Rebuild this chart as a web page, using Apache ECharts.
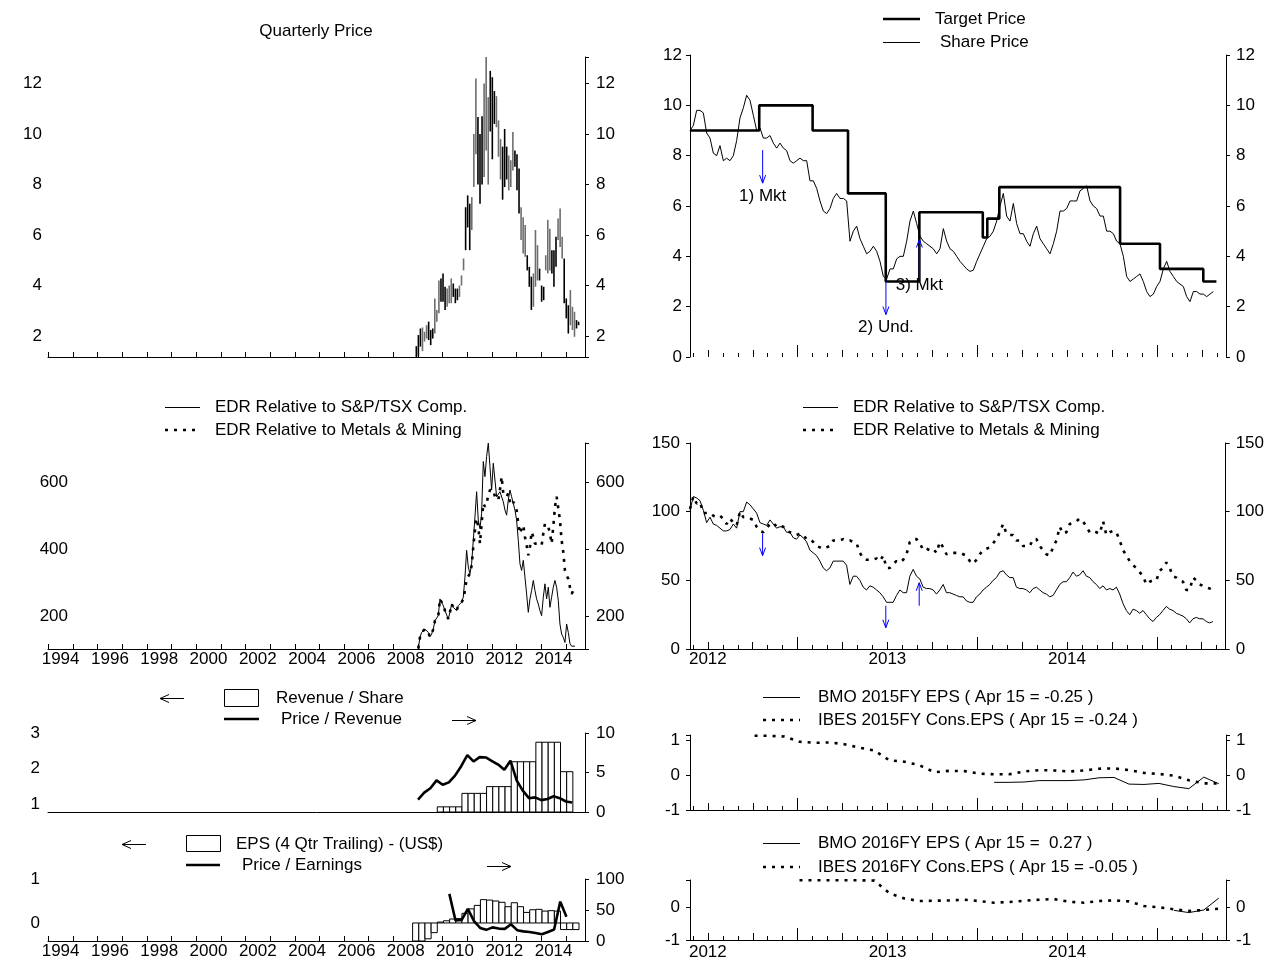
<!DOCTYPE html>
<html><head><meta charset="utf-8">
<script src="https://cdn.jsdelivr.net/npm/echarts@6/dist/echarts.min.js"></script>
<style>html,body{margin:0;padding:0;background:#fff}#c{width:1267px;height:972px}</style>
</head><body><div id="c"></div>
<script>
// ================= DATA =================
const L_RANGE = [1993.988, 2015.773];      // left panels time span (decimal years)
const R_RANGE = [2012.4007, 2015.3834];    // right panels time span (decimal years)
const YEAR_LABELS_LEFT_EVERY = 2;

// Panel A: monthly high / low price bars
const PRICE_START = 2008.93;
const PRICE_LOW = [1.17,1.2,1.58,1.4,1.78,1.9,1.84,1.64,1.9,2.1, 2.57,2.9,3.36,3.36,3.03,3.16,3.3,3.3,3.55,3.3,
  3.42,3.55,4.0,4.6,5.4,6.3,5.4,6.2,7.9,9.2, 8.0,7.24,8.0,8.3,9.35,8.0,10.1,9.0,10.4,10.27,
  9.1,8.2,7.4,7.9,8.2,7.77,7.9,8.56,8.7,7.77, 6.85,5.8,5.27,5.14,4.6,3.95,3.03,3.16,3.95,4.2,
  4.2,3.36,3.42,4.6,4.48,4.6,4.48,3.95,4.74,5.8, 5.53,5.07,3.3,2.7,2.1,2.43,2.24,1.97,2.3,2.43];
const PRICE_HIGH = [1.6,2.04,2.3,2.34,2.17,2.43,2.57,2.24,2.3,3.49, 3.03,4.2,4.28,4.48,3.95,3.88,4.0,4.28,4.08,3.88,
  3.88,4.0,4.4,5.07,7.1,7.57,7.24,7.5,10.0,12.2, 10.67,10.0,10.7,12.0,13.05,11.46,12.5,12.25,11.7,11.5,
  10.54,9.8,9.5,10.2,9.5,9.15,8.96,10.08,9.35,9.2, 8.63,7.1,6.7,6.4,5.2,4.74,4.35,4.48,6.2,5.6,
  4.67,4.0,3.95,5.2,6.6,6.25,5.4,5.4,5.93,6.65, 7.05,5.93,5.07,3.49,3.22,3.82,3.16,2.96,2.63,2.57];

// Panel B: share price (approx weekly) and target price
const SP_START = 2012.4007;
const SP_STEP_DAYS = 6.775;
const SHARE_PRICE = [9.0,9.2,9.8,9.8,9.7,8.9,8.7,8.1,8.0,8.4, 7.8,7.9,7.8,8.0,8.6,9.5,9.9,10.4,10.2,9.6,
  9.0,9.1,8.7,8.7,8.8,8.5,8.3,8.5,8.3,8.2, 7.8,7.7,7.8,7.9,7.8,7.8,7.0,7.0,6.7,6.2,
  5.8,5.7,5.9,6.3,6.5,6.3,6.3,6.2,4.6,5.0, 5.2,4.7,4.4,4.1,4.2,4.4,4.2,3.8,3.2,3.1,
  3.5,3.5,3.9,4.0,4.0,4.6,5.4,5.8,5.3,4.8, 4.6,4.5,4.4,4.3,4.1,4.3,5.1,4.6,4.3,
  4.2,4.0,3.8,3.65,3.5,3.4,3.45,3.8,4.1,4.4, 4.7,4.8,5.0,5.4,6.0,6.5,5.6,5.4,6.1,5.3,
  4.9,4.9,4.6,4.4,4.9,5.2,4.7,4.5,4.3,4.1, 4.5,5.0,5.8,5.8,5.9,6.2,6.2,6.2,6.6,6.7,
  6.8,6.2,6.0,5.9,5.6,5.6,5.0,5.0,4.9,4.6, 4.5,4.0,3.2,3.0,3.1,3.2,3.3,3.0,2.6,2.4,
  2.5,2.8,3.0,3.5,3.8,3.4,3.2,3.0,2.9,2.8, 2.4,2.2,2.6,2.6,2.5,2.5,2.4,2.5,2.6];
const TP_DATES  = [2012.4007,2012.786,2013.083,2013.28,2013.49,2013.677,2014.03,2014.055,2014.122,2014.794,2015.016,2015.257,2015.33];
const TP_VALUES = [9.0,10.0,9.0,6.5,3.0,5.75,4.75,5.5,6.75,4.5,3.5,3.0,3.0];

// Rating changes
const RATING_DATES  = [2012.805, 2013.491, 2013.677];
const RATING_DIR    = ['down', 'down', 'up'];
const RATING_LABELS = ['1) Mkt', '2) Und.', '3) Mkt'];
const RATING_PRICE_AT = [8.22, 3.0, 3.0];
const RATING_REL_AT   = [84, 31.5, 31.5];

// Panel C: relative performance (long term)
const RELLT_START = 2009.01;
const RELLT_STEP = 0.06761;
const REL_TSX_LT = [103,136,151,146,161,166,151,138,146,161, 186,191,201,251,241,231,216,211,191,211,
  236,226,231,216,231,236,241,256,316,396, 346,326,356,426,496,571,486,461,506,661,
  616,676,716,646,576,656,606,556,561,571, 566,541,516,501,546,576,556,536,516,486,
  426,356,336,366,316,266,211,251,276,306, 276,251,236,216,201,256,296,251,286,226,
  256,286,306,286,246,176,146,136,121,176, 151,118,110,110,110];
const REL_MM_LT = [103,136,151,146,161,166,151,138,146,161, 186,191,201,251,241,231,216,211,191,211,
  236,226,231,216,231,236,241,251,276,311, 311,326,351,406,456,491,466,416,476,536,
  526,536,561,576,571,576,556,551,546,576, 616,566,566,556,566,541,531,541,546,516,
  476,446,461,471,436,411,381,406,451,436, 416,411,416,411,411,446,476,471,466,446,
  416,466,526,556,521,486,426,391,336,321, 311,286,266,276,266];

// Panel D: relative performance (3 years), same dates as SHARE_PRICE
const REL_TSX = [101,111,110,108,101,92,96,91,90,88, 86,86,87,91,88,100,100,107,105,102,
  99,92,91,90,94,91,88,89,89,85, 85,81,80,83,81,78,72,70,68,64,
  59,57,59,64,64,64,64,61,47,53, 53,50,45,43,46,45,43,41,38,34,
  34,34,39,43,41,41,53,58,53,51, 45,44,44,43,40,43,47,41,41,40, 39,38,
  38,35,34,34,38,40,43,45,47,50, 52,56,57,54,52,52,45,44,44,43,
  41,44,45,43,41,40,38,39,43,47, 49,49,52,56,53,54,57,53,52,49,
  47,44,46,43,44,43,45,40,33,28, 25,29,28,26,28,25,22,20,23,25,
  28,31,29,28,26,25,24,22,19,22, 23,22,22,20,19,20];
const REL_MM = [102,111,106,107,99,99,99,97,96,97, 95,91,95,92,90,100,96,96,95,94,
  89,86,85,88,91,92,89,90,89,86, 85,84,83,84,83,80,80,78,75,74,
  73,74,75,79,79,79,80,79,79,78, 77,70,66,65,65,65,66,64,68,59,
  59,62,64,63,65,69,78,80,80,77, 72,73,72,73,70,78,74,69,70,70, 70,70,
  69,68,64,62,65,69,72,73,74,77, 80,85,91,84,83,83,79,79,75,75,
  75,80,80,75,72,69,68,74,79,89, 84,85,91,92,93,95,93,89,85,86,
  85,84,93,83,85,86,85,79,72,68, 64,61,59,56,53,47,49,50,50,57,
  59,63,59,53,52,50,49,43,43,52, 50,47,46,45,44,45];

// Panels E/F: quarterly fundamentals
const QTR_START = 2008.78;
const REV_FIRST_QTR = 4;
const REV_SHARE = [0.92,0.92,0.92,0.92,1.30,1.30,1.30,1.30,1.49,1.49,1.49,1.49,2.19,2.19,2.19,2.19,2.74,2.74,2.74,2.74,1.91,1.91];
const EPS_4Q = [-0.45,-0.45,-0.36,-0.22,0.02,0.05,0.09,0.10,0.22,0.32,0.40,0.53,0.52,0.50,0.47,0.37,0.46,0.37,0.24,0.30,0.31,0.27,0.28,0.27,-0.15,-0.15,-0.15];
const PREV_START = 2009.0;
const P_REV = [1.57,2.45,3.0,4.0,3.45,3.75,4.6,5.8,7.2,6.4,6.95,6.9,6.45,6.0,5.35,6.5,4.0,2.7,1.75,1.85,1.5,1.65,2.0,1.75,1.33,1.2];
const PE_START = 2010.27;
const P_E = [76,33,34,52,32,21,18,22,20,19.5,27,17.5,15.5,14.5,13,11,14.5,18.5,63.5,39];

// Panels G/H: EPS estimates (monthly)
const EST_START = 2012.76;
const IBES_2015 = [1.12,1.12,1.10,0.95,0.92,0.93,0.88,0.78,0.70,0.42,0.38,0.28,0.08,0.12,0.11,0.04,0.02,0.02,0.10,0.14,0.13,0.10,0.13,0.18,0.19,0.14,0.06,0.03,-0.02,-0.15,-0.24,-0.24];
const BMO_2015_FIRST = 16;
const BMO_2015 = [-0.21,-0.21,-0.20,-0.16,-0.16,-0.16,-0.14,-0.08,-0.07,-0.26,-0.27,-0.24,-0.33,-0.39,-0.06,-0.25];
const IBES_2016_FIRST = 3;
const IBES_2016 = [0.81,0.81,0.81,0.81,0.81,0.80,0.42,0.26,0.18,0.19,0.20,0.22,0.18,0.13,0.15,0.19,0.22,0.24,0.16,0.13,0.18,0.20,0.17,0.03,-0.01,-0.07,-0.12,-0.09,-0.05];
const BMO_2016_FIRST = 28;
const BMO_2016 = [-0.10,-0.17,-0.09,0.27];

// ================= BUILD =================
const FONT = "'Liberation Sans', Arial, sans-serif";
const FS = 17;
const TXT = {color:'#000', fontSize:FS, fontFamily:FONT};
const grids = [], xAxes = [], yAxes = [], series = [], graphics = [];
const mo = t => t * 12;
const onStep = (v, s) => Math.abs(v / s - Math.round(v / s)) < 1e-6;

function addGrid(left, top, width, height) {
  grids.push({left, top, width, height, containLabel:false, show:false});
  return grids.length - 1;
}
function leftX(gi, o) {
  const base = {type:'value', gridIndex:gi, position:'bottom', min:L_RANGE[0], max:L_RANGE[1], splitLine:{show:false}};
  const main = xAxes.length;
  xAxes.push(Object.assign({}, base, {minInterval:1, maxInterval:1,
    axisLine:{show:true, onZero:false, lineStyle:{color:'#000', width:1}},
    axisTick:{show:o.ticks, inside:true, length:5, lineStyle:{color:'#000', width:1}},
    axisLabel:{show:false}}));
  if (o.labels) xAxes.push(Object.assign({}, base, {minInterval:0.5, maxInterval:0.5,
    axisLine:{show:false, onZero:false}, axisTick:{show:false},
    axisLabel:Object.assign({}, TXT, {margin:o.margin, formatter:v => {
      const y = Math.floor(v + 1e-6);
      return (Math.abs(v - y - 0.5) < 1e-4 && y % YEAR_LABELS_LEFT_EVERY === 0) ? String(y) : '';
    }})}));
  return main;
}
function rightX(gi, o) {
  const base = {type:'value', gridIndex:gi, position:'bottom', min:mo(R_RANGE[0]), max:mo(R_RANGE[1]), splitLine:{show:false}, axisLabel:{show:false}};
  const main = xAxes.length;
  xAxes.push(Object.assign({}, base, {minInterval:1, maxInterval:1,
    axisLine:{show:o.line, onZero:false, lineStyle:{color:'#000', width:1}},
    axisTick:{show:true, inside:true, length:4, lineStyle:{color:'#000', width:1}}}));
  xAxes.push(Object.assign({}, base, {minInterval:3, maxInterval:3, axisLine:{show:false, onZero:false},
    axisTick:{show:true, inside:true, length:7, lineStyle:{color:'#000', width:1}}}));
  xAxes.push(Object.assign({}, base, {minInterval:12, maxInterval:12, axisLine:{show:false, onZero:false},
    axisTick:{show:true, inside:true, length:12, lineStyle:{color:'#000', width:1}}}));
  if (o.labels) xAxes.push(Object.assign({}, base, {minInterval:6, maxInterval:6, axisLine:{show:false, onZero:false},
    axisTick:{show:false},
    axisLabel:Object.assign({}, TXT, {show:true, margin:o.margin, formatter:v => {
      const m = Math.round(v); return (Math.abs(v - m) < 1e-4 && m % 12 === 6) ? String(Math.floor(m / 12)) : '';
    }})}));
  return main;
}
function addY(gi, side, o) {
  yAxes.push({type:'value', gridIndex:gi, position:side, min:o.min, max:o.max,
    minInterval:o.step, maxInterval:o.step, offset:o.offset || 0,
    axisLine:{show:!!o.line, onZero:false, lineStyle:{color:'#000', width:1}},
    axisTick:{show:!!o.ticks, inside:false, length:4, lineStyle:{color:'#000', width:1}},
    axisLabel:Object.assign({}, TXT, {margin:o.margin, formatter:v => onStep(v, o.step) ? String(Math.round(v)) : ''}),
    splitLine:{show:false}});
  return yAxes.length - 1;
}
function lineSeries(xi, yi, data, style, extra) {
  series.push(Object.assign({type:'line', xAxisIndex:xi, yAxisIndex:yi, data, symbol:'none', showSymbol:false,
    animation:false, silent:true, lineStyle:Object.assign({color:'#000', width:1}, style)}, extra || {}));
}
const DOT = {width:2.6, type:[3, 6], cap:'butt'};

// ---- Panel A ----
const gA = addGrid(48, 57, 537, 300);
const xA = leftX(gA, {ticks:true, labels:false});
const yA = addY(gA, 'left', {min:1.17, max:13.05, step:2, margin:6});
addY(gA, 'right', {min:1.17, max:13.05, step:2, line:true, ticks:true, margin:11});
series.push({type:'custom', xAxisIndex:xA, yAxisIndex:yA, animation:false, silent:true,
  data: PRICE_LOW.map((lo, i) => [PRICE_START + i / 12, lo, PRICE_HIGH[i]]),
  encode:{x:0, y:[1, 2]},
  renderItem:(params, api) => {
    const a = api.coord([api.value(0), api.value(1)]);
    const b = api.coord([api.value(0), api.value(2)]);
    const col = Math.floor(params.dataIndex / 3) % 2 ? '#6e6e6e' : '#000';
    return {type:'line', shape:{x1:a[0], y1:a[1], x2:b[0], y2:b[1]}, style:{stroke:col, lineWidth:1.6}};
  }});

// ---- Panel B ----
const gB = addGrid(690, 55, 536, 302);
const xB = rightX(gB, {line:false, labels:false});
const yB = addY(gB, 'left', {min:0, max:12, step:2, line:true, ticks:true, margin:8});
addY(gB, 'right', {min:0, max:12, step:2, line:true, ticks:true, margin:10});
const spDate = i => SP_START + i * SP_STEP_DAYS / 365.25;
lineSeries(xB, yB, TP_DATES.map((t, i) => [mo(t), TP_VALUES[i]]), {width:2.6}, {step:'end'});
lineSeries(xB, yB, SHARE_PRICE.map((v, i) => [mo(spDate(i)), v]), {width:1});

function arrowSeries(xi, yi, startVals, lens, withLabels) {
  series.push({type:'custom', xAxisIndex:xi, yAxisIndex:yi, animation:false, silent:true, z:5,
    data: RATING_DATES.map((t, i) => [mo(t), startVals[i]]),
    renderItem:(params, api) => {
      const i = params.dataIndex;
      const p = api.coord([api.value(0), api.value(1)]);
      const d = RATING_DIR[i] === 'down' ? 1 : -1;
      const tip = [p[0], p[1] + d * lens[i]];
      const children = [
        {type:'line', shape:{x1:p[0], y1:p[1], x2:tip[0], y2:tip[1]}, style:{stroke:'#0000ff', lineWidth:1}},
        {type:'polyline', shape:{points:[[tip[0] - 3, tip[1] - d * 8], tip, [tip[0] + 3, tip[1] - d * 8]]}, style:{stroke:'#0000ff', fill:null, lineWidth:1}}
      ];
      if (withLabels) {
        const ly = d > 0 ? tip[1] + 13 : p[1] + 4;
        children.push({type:'text', x:p[0], y:ly, style:{text:RATING_LABELS[i], fill:'#000', font:FS + 'px ' + FONT, align:'center', verticalAlign:'middle'}});
      }
      return {type:'group', children};
    }});
}
arrowSeries(xB, yB, RATING_PRICE_AT, [33, 33, 42], true);

// ---- Panel C ----
const gC = addGrid(48, 443, 537, 206);
const xC = leftX(gC, {ticks:true, labels:true, margin:2});
const yC = addY(gC, 'left', {min:101.5, max:716.4, step:200, margin:8, offset:-28});
addY(gC, 'right', {min:101.5, max:716.4, step:200, line:true, ticks:true, margin:11});
const relLtDate = i => RELLT_START + i * RELLT_STEP;
lineSeries(xC, yC, REL_TSX_LT.map((v, i) => [relLtDate(i), v]), {width:1});
lineSeries(xC, yC, REL_MM_LT.map((v, i) => [relLtDate(i), v]), DOT);

// ---- Panel D ----
const gD = addGrid(690, 443, 536, 206);
const xD = rightX(gD, {line:true, labels:true, margin:2});
const yD = addY(gD, 'left', {min:0, max:150, step:50, line:true, ticks:true, margin:10});
addY(gD, 'right', {min:0, max:150, step:50, line:true, ticks:true, margin:10});
lineSeries(xD, yD, REL_TSX.map((v, i) => [mo(spDate(i)), v]), {width:1});
lineSeries(xD, yD, REL_MM.map((v, i) => [mo(spDate(i)), v]), DOT);
arrowSeries(xD, yD, RATING_REL_AT, [22, 22, 23], false);

// ---- bar helper (quarterly) ----
function qBars(xi, yi, vals, firstQ, yMin, yMax) {
  series.push({type:'custom', xAxisIndex:xi, yAxisIndex:yi, animation:false, silent:true,
    data: vals.map((v, i) => [QTR_START + (firstQ + i) * 0.25, QTR_START + (firstQ + i + 1) * 0.25, v]),
    encode:{x:[0, 1], y:2},
    renderItem:(params, api) => {
      const v = Math.max(yMin, Math.min(yMax, api.value(2)));
      const b = Math.max(yMin, Math.min(yMax, 0));
      const p0 = api.coord([api.value(0), v]);
      const p1 = api.coord([api.value(1), b]);
      return {type:'rect', shape:{x:Math.min(p0[0], p1[0]), y:Math.min(p0[1], p1[1]), width:Math.abs(p1[0] - p0[0]), height:Math.abs(p1[1] - p0[1])},
        style:{fill:'#fff', stroke:'#000', lineWidth:1}};
    }});
}

// ---- Panel E ----
const gE = addGrid(48, 733, 537, 79);
const xE = leftX(gE, {ticks:false, labels:false});
const yEl = addY(gE, 'left', {min:0.775, max:3, step:1, margin:8});
const yEr = addY(gE, 'right', {min:0, max:10, step:5, line:true, ticks:true, margin:11});
qBars(xE, yEl, REV_SHARE, REV_FIRST_QTR, 0.775, 3);
lineSeries(xE, yEr, P_REV.map((v, i) => [PREV_START + i * 0.25, v]), {width:2.6});

// ---- Panel F ----
const gF = addGrid(48, 879, 537, 62);
const xF = leftX(gF, {ticks:true, labels:true, margin:2});
const yFl = addY(gF, 'left', {min:-0.41, max:1, step:1, margin:8});
const yFr = addY(gF, 'right', {min:0, max:100, step:50, line:true, ticks:true, margin:11});
qBars(xF, yFl, EPS_4Q, 0, -0.41, 1);
lineSeries(xF, yFr, P_E.map((v, i) => [PE_START + i * 0.25, v]), {width:2.6});

// ---- Panels G/H ----
const estDate = k => EST_START + k / 12;
const gG = addGrid(690, 735, 536, 75);
const xG = rightX(gG, {line:true, labels:false});
const yG = addY(gG, 'left', {min:-1, max:1.143, step:1, line:true, ticks:true, margin:10});
addY(gG, 'right', {min:-1, max:1.143, step:1, line:true, ticks:true, margin:10});
lineSeries(xG, yG, BMO_2015.map((v, i) => [mo(estDate(BMO_2015_FIRST + i)), v]), {width:1});
lineSeries(xG, yG, IBES_2015.map((v, i) => [mo(estDate(i)), v]), DOT);

const gH = addGrid(690, 880, 536, 60);
const xH = rightX(gH, {line:true, labels:true, margin:4});
const yH = addY(gH, 'left', {min:-1, max:0.818, step:1, line:true, ticks:true, margin:10});
addY(gH, 'right', {min:-1, max:0.818, step:1, line:true, ticks:true, margin:10});
lineSeries(xH, yH, BMO_2016.map((v, i) => [mo(estDate(BMO_2016_FIRST + i)), v]), {width:1});
lineSeries(xH, yH, IBES_2016.map((v, i) => [mo(estDate(IBES_2016_FIRST + i)), v]), DOT);

// ================= LEGENDS / TEXT =================
const font = FS + 'px ' + FONT;
function gText(x, y, text, align) {
  graphics.push({type:'text', x, y, silent:true, style:{text, fill:'#000', font, align:align || 'left', verticalAlign:'middle'}});
}
function gLine(x1, x2, y, style) {
  const s = Object.assign({stroke:'#000', lineWidth:1}, style || {});
  const yy = s.lineWidth === 1 ? y + 0.5 : y;
  graphics.push({type:'line', silent:true, shape:{x1, y1:yy, x2, y2:yy}, style:s});
}
function gBox(x, y, w, h) {
  graphics.push({type:'rect', silent:true, shape:{x, y, width:w, height:h}, style:{fill:'#fff', stroke:'#000', lineWidth:1}});
}
function gArrow(x1, x2, y, dir) {
  gLine(x1, x2, y);
  const tip = dir < 0 ? x1 : x2;
  graphics.push({type:'polyline', silent:true, shape:{points:[[tip - dir * 9, y - 3.5], [tip, y + 0.5], [tip - dir * 9, y + 4.5]]}, style:{stroke:'#000', fill:null, lineWidth:1}});
}
const DASH = {lineWidth:2.6, lineDash:[3, 6]};

gText(316, 31, 'Quarterly Price', 'center');

gLine(883, 920, 19, {lineWidth:2.6}); gText(935, 19, 'Target Price');
gLine(883, 920, 42); gText(940, 42, 'Share Price');

gLine(165, 200, 407); gText(215, 407, 'EDR Relative to S&P/TSX Comp.');
gLine(165, 200, 430, DASH); gText(215, 430, 'EDR Relative to Metals & Mining');

gLine(803, 838, 407); gText(853, 407, 'EDR Relative to S&P/TSX Comp.');
gLine(803, 838, 430, DASH); gText(853, 430, 'EDR Relative to Metals & Mining');

gArrow(160, 184, 698, -1);
gBox(224.5, 689.5, 34, 17); gText(276, 698, 'Revenue / Share');
gLine(224, 259, 719, {lineWidth:2.6}); gText(281, 719, 'Price / Revenue');
gArrow(452, 476, 720, 1);

gArrow(122, 146, 844, -1);
gBox(186.5, 835.5, 34, 16); gText(236, 844, 'EPS (4 Qtr Trailing) - (US$)');
gLine(186, 220, 865, {lineWidth:2.6}); gText(242, 865, 'Price / Earnings');
gArrow(487, 511, 866, 1);

gLine(763, 800, 697); gText(818, 697, 'BMO 2015FY EPS ( Apr 15 = -0.25 )');
gLine(763, 800, 720, DASH); gText(818, 720, 'IBES 2015FY Cons.EPS ( Apr 15 = -0.24 )');

gLine(763, 800, 843); gText(818, 843, 'BMO 2016FY EPS ( Apr 15 =  0.27 )');
gLine(763, 800, 867, DASH); gText(818, 867, 'IBES 2016FY Cons.EPS ( Apr 15 = -0.05 )');

const chart = echarts.init(document.getElementById('c'), null, {renderer:'canvas', width:1267, height:972});
chart.setOption({
  backgroundColor:'#fff', animation:false,
  grid:grids, xAxis:xAxes, yAxis:yAxes, series, graphic:{elements:graphics}
});
</script></body></html>
